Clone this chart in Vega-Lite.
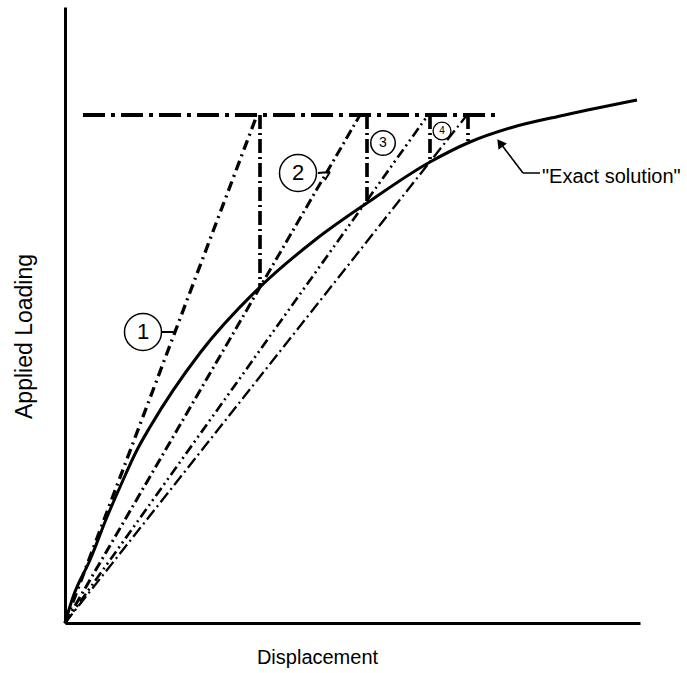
{
  "$schema": "https://vega.github.io/schema/vega-lite/v6.json",
  "width": 575,
  "height": 616,
  "autosize": {"type": "none"},
  "padding": {"left": 65, "top": 7, "right": 47, "bottom": 50},
  "background": "white",
  "config": {
    "view": {"stroke": null},
    "font": "Liberation Sans",
    "axis": {"grid": false, "ticks": false, "labels": false, "domainColor": "black", "domainWidth": 3, "titleColor": "black", "titleFontWeight": "normal", "titleFont": "Liberation Sans"}
  },
  "resolve": {"scale": {"strokeDash": "independent", "strokeWidth": "independent"}},
  "datasets": {
    "curve": [
      {"x": 0, "y": 0}, {"x": 8, "y": 26}, {"x": 25, "y": 63}, {"x": 42, "y": 106}, {"x": 55, "y": 136},
      {"x": 72, "y": 173}, {"x": 85, "y": 196}, {"x": 135, "y": 270}, {"x": 195, "y": 336}, {"x": 250, "y": 383},
      {"x": 302, "y": 420}, {"x": 365, "y": 461}, {"x": 405, "y": 481}, {"x": 445, "y": 495}, {"x": 500, "y": 508}, {"x": 572, "y": 523}
    ],
    "segs": [
      {"kind": "load", "x": 18, "y": 508, "x2": 432, "y2": 508},
      {"kind": "s1", "x": 0, "y": 0, "x2": 192, "y2": 508},
      {"kind": "vert", "x": 195, "y": 508, "x2": 195, "y2": 336},
      {"kind": "s2", "x": 0, "y": 0, "x2": 295, "y2": 508},
      {"kind": "vert", "x": 302, "y": 508, "x2": 302, "y2": 420},
      {"kind": "s3", "x": 0, "y": 0, "x2": 363, "y2": 508},
      {"kind": "vert", "x": 365, "y": 508, "x2": 365, "y2": 461},
      {"kind": "s4", "x": 0, "y": 0, "x2": 402, "y2": 508},
      {"kind": "vert", "x": 403, "y": 508, "x2": 403, "y2": 482},
      {"kind": "lead", "x": 96, "y": 291, "x2": 111, "y2": 291},
      {"kind": "lead", "x": 253, "y": 450, "x2": 265, "y2": 451},
      {"kind": "lead", "x": 265, "y": 451, "x2": 260, "y2": 443},
      {"kind": "arrow", "x": 458, "y": 450, "x2": 475, "y2": 450},
      {"kind": "arrow", "x": 458, "y": 450, "x2": 436, "y2": 479}
    ],
    "labels": [
      {"n": "1", "x": 78, "y": 291},
      {"n": "2", "x": 233, "y": 450},
      {"n": "3", "x": 318, "y": 480},
      {"n": "4", "x": 377, "y": 492}
    ],
    "notes": [
      {"t": "\"Exact solution\"", "x": 477, "y": 446}
    ],
    "heads": [
      {"x": 435, "y": 480}
    ]
  },
  "layer": [
    {
      "data": {"name": "segs"},
      "mark": {"type": "rule", "color": "black"},
      "encoding": {
        "x": {"field": "x", "type": "quantitative", "scale": {"domain": [0, 575], "nice": false, "zero": false}, "axis": {"title": "Displacement", "titleFontSize": 20, "titleX": 252, "titleY": 40, "titleAlign": "center", "titleBaseline": "alphabetic"}},
        "y": {"field": "y", "type": "quantitative", "scale": {"domain": [0, 616], "nice": false, "zero": false}, "axis": {"title": "Applied Loading", "titleFontSize": 23, "titleX": -34, "titleY": 329, "titleAlign": "center", "titleBaseline": "alphabetic", "titleAngle": 270}},
        "x2": {"field": "x2"},
        "y2": {"field": "y2"},
        "strokeDash": {"field": "kind", "type": "nominal", "scale": {"domain": ["load", "vert", "s1", "s2", "s3", "s4", "lead", "arrow"], "range": [[22, 6, 4, 6], [14, 4, 2, 4], [10, 5, 2, 5], [10, 4, 2, 4], [10, 4, 2, 4, 2, 4], [12, 4, 2, 4], [1, 0], [1, 0]]}, "legend": null},
        "strokeWidth": {"field": "kind", "type": "nominal", "scale": {"domain": ["load", "vert", "s1", "s2", "s3", "s4", "lead", "arrow"], "range": [4, 1.6, 1.2, 1.2, 1.2, 1.2, 1.5, 2]}, "legend": null}
      }
    },
    {
      "data": {"name": "curve"},
      "mark": {"type": "line", "color": "black", "strokeWidth": 3, "interpolate": "monotone"},
      "encoding": {
        "x": {"field": "x", "type": "quantitative"},
        "y": {"field": "y", "type": "quantitative"}
      }
    },
    {
      "data": {"name": "labels"},
      "transform": [{"filter": "datum.n == '1' || datum.n == '2'"}],
      "mark": {"type": "point", "shape": "circle", "filled": false, "stroke": "black", "strokeWidth": 1.5, "opacity": 1, "size": 1370},
      "encoding": {
        "x": {"field": "x", "type": "quantitative"},
        "y": {"field": "y", "type": "quantitative"}
      }
    },
    {
      "data": {"name": "labels"},
      "transform": [{"filter": "datum.n == '3'"}],
      "mark": {"type": "point", "shape": "circle", "filled": false, "stroke": "black", "strokeWidth": 1.5, "opacity": 1, "size": 600},
      "encoding": {
        "x": {"field": "x", "type": "quantitative"},
        "y": {"field": "y", "type": "quantitative"}
      }
    },
    {
      "data": {"name": "labels"},
      "transform": [{"filter": "datum.n == '4'"}],
      "mark": {"type": "point", "shape": "circle", "filled": false, "stroke": "black", "strokeWidth": 1.3, "opacity": 1, "size": 320},
      "encoding": {
        "x": {"field": "x", "type": "quantitative"},
        "y": {"field": "y", "type": "quantitative"}
      }
    },
    {
      "data": {"name": "labels"},
      "transform": [{"filter": "datum.n == '1' || datum.n == '2'"}],
      "mark": {"type": "text", "color": "black", "baseline": "middle", "align": "center", "font": "Liberation Sans", "fontSize": 22},
      "encoding": {
        "x": {"field": "x", "type": "quantitative"},
        "y": {"field": "y", "type": "quantitative"},
        "text": {"field": "n"}
      }
    },
    {
      "data": {"name": "labels"},
      "transform": [{"filter": "datum.n == '3'"}],
      "mark": {"type": "text", "color": "black", "baseline": "middle", "align": "center", "font": "Liberation Sans", "fontSize": 14},
      "encoding": {
        "x": {"field": "x", "type": "quantitative"},
        "y": {"field": "y", "type": "quantitative"},
        "text": {"field": "n"}
      }
    },
    {
      "data": {"name": "labels"},
      "transform": [{"filter": "datum.n == '4'"}],
      "mark": {"type": "text", "color": "black", "baseline": "middle", "align": "center", "font": "Liberation Sans", "fontSize": 10},
      "encoding": {
        "x": {"field": "x", "type": "quantitative"},
        "y": {"field": "y", "type": "quantitative"},
        "text": {"field": "n"}
      }
    },
    {
      "data": {"name": "heads"},
      "mark": {"type": "point", "shape": "triangle-up", "filled": true, "color": "black", "opacity": 1, "size": 110, "angle": 323},
      "encoding": {
        "x": {"field": "x", "type": "quantitative"},
        "y": {"field": "y", "type": "quantitative"}
      }
    },
    {
      "data": {"name": "notes"},
      "mark": {"type": "text", "color": "black", "align": "left", "baseline": "middle", "fontSize": 20, "font": "Liberation Sans"},
      "encoding": {
        "x": {"field": "x", "type": "quantitative"},
        "y": {"field": "y", "type": "quantitative"},
        "text": {"field": "t"}
      }
    }
  ]
}
